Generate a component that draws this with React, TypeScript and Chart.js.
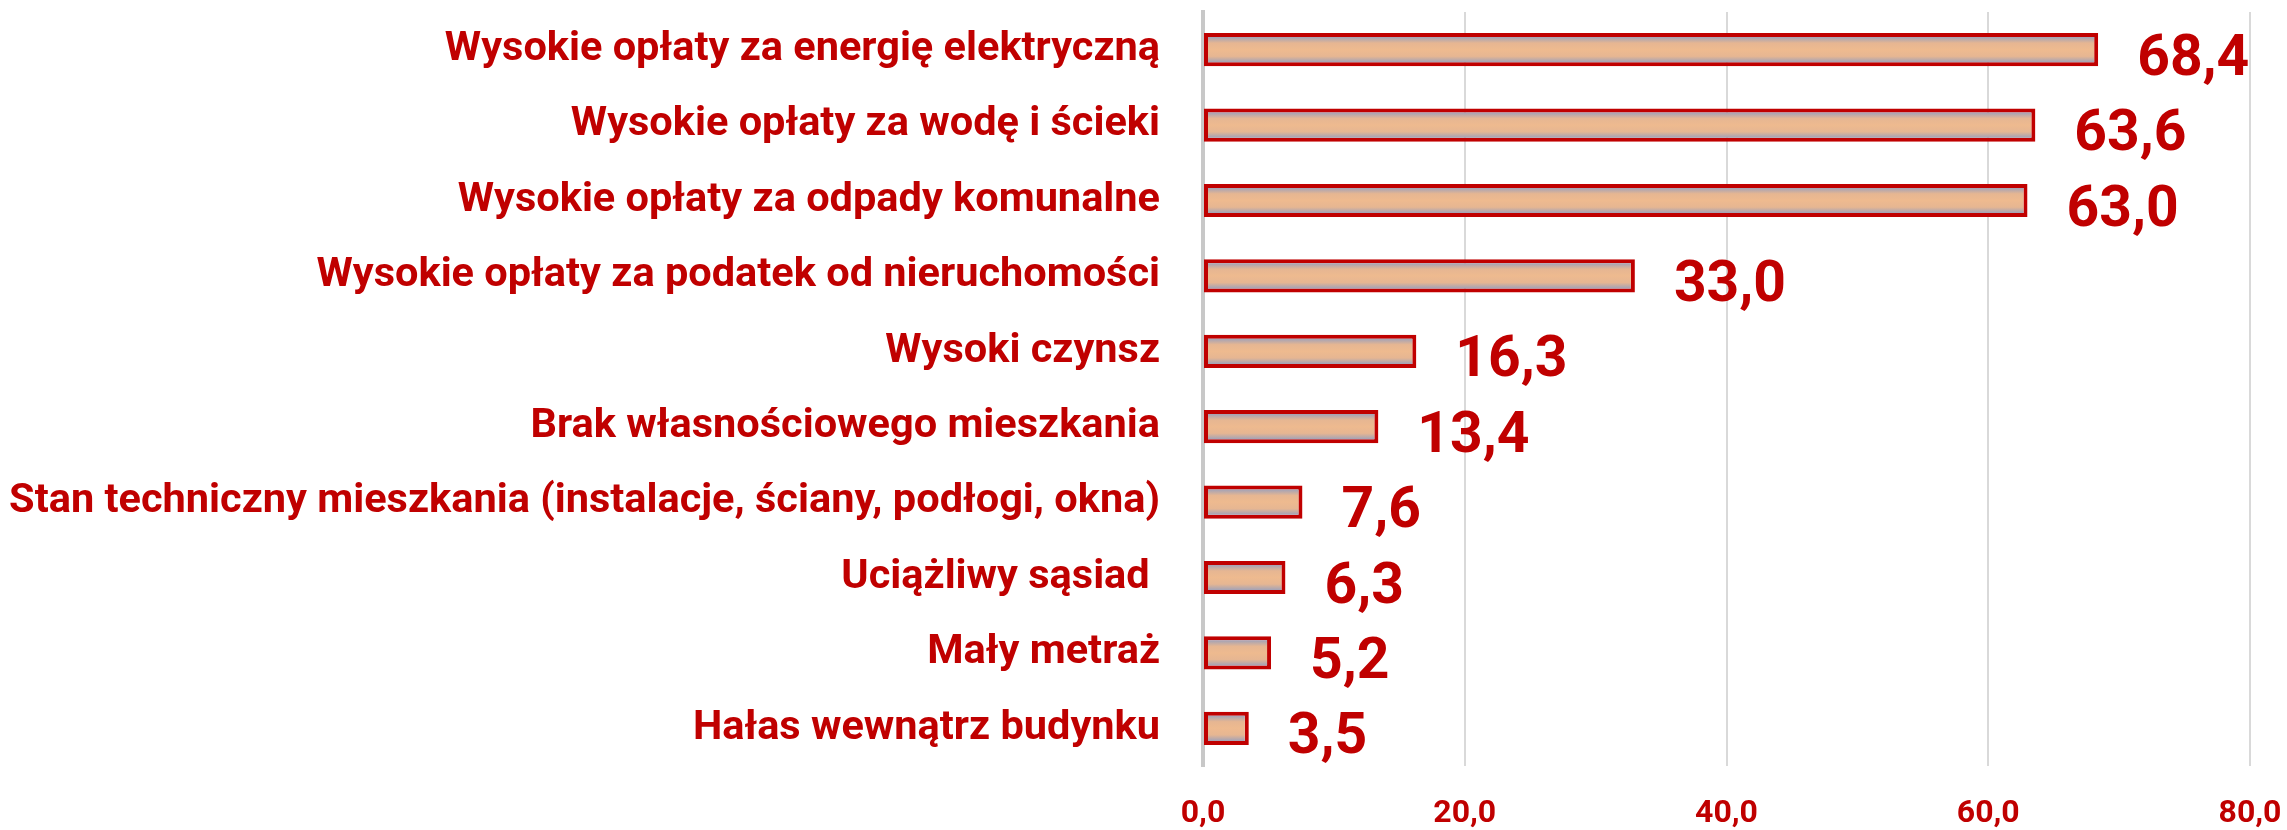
import React, { useEffect, useRef } from "react";
import { Chart, registerables } from "chart.js";

Chart.register(...registerables);

const categories: string[] = [
  "Wysokie opłaty za energię elektryczną",
  "Wysokie opłaty za wodę i ścieki",
  "Wysokie opłaty za odpady komunalne",
  "Wysokie opłaty za podatek od nieruchomości",
  "Wysoki czynsz",
  "Brak własnościowego mieszkania",
  "Stan techniczny mieszkania (instalacje, ściany, podłogi, okna)",
  "Uciążliwy sąsiad ",
  "Mały metraż",
  "Hałas wewnątrz budynku",
];

const values: number[] = [68.4, 63.6, 63.0, 33.0, 16.3, 13.4, 7.6, 6.3, 5.2, 3.5];

const xTicks: number[] = [0, 20, 40, 60, 80];

const RED = "#C00000";
const FONT = "Roboto, 'Open Sans', sans-serif";

const fmt = (v: number) => v.toFixed(1).replace(".", ",");

const barShading = {
  id: "barShading",
  beforeDatasetsDraw(chart: any) {
    const ctx = chart.ctx;
    const meta = chart.getDatasetMeta(0);
    meta.data.forEach((bar: any) => {
      const top = bar.y - bar.height / 2;
      const bottom = bar.y + bar.height / 2;
      const g = ctx.createLinearGradient(0, top, 0, bottom);
      g.addColorStop(0, "#A3A2B4");
      g.addColorStop(0.14, "#A9A4B3");
      g.addColorStop(0.3, "#E6B692");
      g.addColorStop(0.5, "#EEBA8F");
      g.addColorStop(0.7, "#E6B692");
      g.addColorStop(0.86, "#A9A4B3");
      g.addColorStop(1, "#A3A2B4");
      bar.options = { ...bar.options, backgroundColor: g };
    });
  },
};

const valueLabels = {
  id: "valueLabels",
  afterDatasetsDraw(chart: any) {
    const ctx = chart.ctx;
    const meta = chart.getDatasetMeta(0);
    ctx.save();
    ctx.fillStyle = RED;
    ctx.font = `bold 57px ${FONT}`;
    ctx.textAlign = "left";
    ctx.textBaseline = "alphabetic";
    meta.data.forEach((bar: any, i: number) => {
      const v = chart.data.datasets[0].data[i];
      ctx.fillText(fmt(v), bar.x + 39, bar.y + 25);
    });
    ctx.restore();
  },
};

export default function App() {
  const ref = useRef<HTMLCanvasElement | null>(null);

  useEffect(() => {
    document.body.style.margin = "0";
    const canvas = ref.current!;
    const chart = new Chart(canvas, {
      type: "bar",
      data: {
        labels: categories,
        datasets: [
          {
            data: values,
            backgroundColor: "#EDB990",
            borderColor: RED,
            borderWidth: 4,
            borderSkipped: false,
            barPercentage: 0.44,
            categoryPercentage: 1,
          },
        ],
      },
      options: {
        indexAxis: "y",
        responsive: false,
        animation: false,
        layout: { autoPadding: false, padding: { top: 12, right: 37, left: 0, bottom: 0 } },
        plugins: {
          legend: { display: false },
          tooltip: { enabled: false },
        },
        scales: {
          x: {
            min: 0,
            max: 80,
            afterBuildTicks: (s: any) => {
              s.ticks = xTicks.map((v) => ({ value: v }));
            },
            afterFit: (s: any) => {
              s.height = 64;
              s.paddingLeft = 0;
              s.paddingRight = 0;
            },
            grid: { color: "#D9D9D9", lineWidth: 2, drawTicks: false },
            border: { display: false },
            ticks: {
              color: RED,
              padding: 29,
              font: { family: FONT, size: 32, weight: "bold" },
              callback: (v: any) => fmt(Number(v)),
            },
          },
          y: {
            afterFit: (s: any) => {
              s.width = 1203;
              s.paddingTop = 0;
              s.paddingBottom = 0;
            },
            grid: { display: false, drawTicks: false },
            border: { display: true, color: "#C8C8C8", width: 4 },
            ticks: {
              color: RED,
              padding: 43,
              font: { family: FONT, size: 41.5, weight: "bold" },
            },
          },
        },
      },
      plugins: [barShading, valueLabels],
    });
    return () => chart.destroy();
  }, []);

  return (
    <div style={{ position: "fixed", left: 0, top: 0, width: 2287, height: 830, background: "#fff" }}>
      <canvas ref={ref} width={2287} height={830} />
    </div>
  );
}
